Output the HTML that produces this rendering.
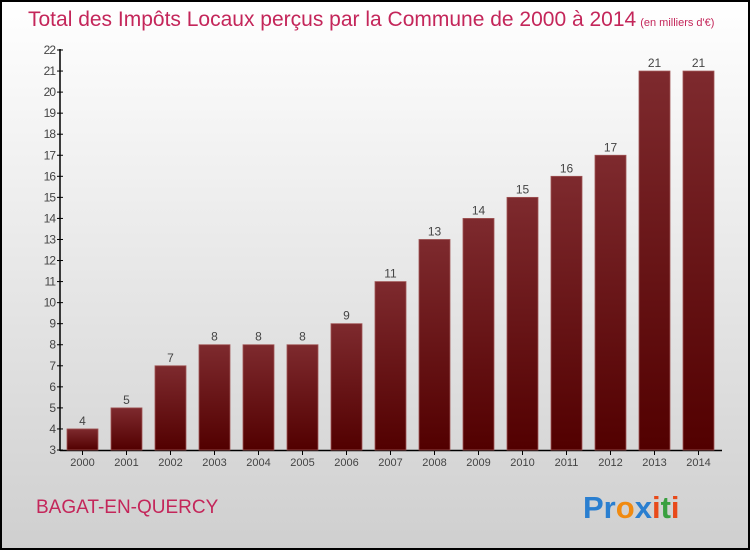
<!DOCTYPE html>
<html><head><meta charset="utf-8"><style>
body{margin:0;width:750px;height:550px;overflow:hidden;font-family:"Liberation Sans",sans-serif}
</style></head><body>
<svg width="750" height="550" xmlns="http://www.w3.org/2000/svg">
<defs>
<linearGradient id="bg" x1="0" y1="0" x2="0" y2="1"><stop offset="0" stop-color="#ffffff"/><stop offset="1" stop-color="#cfcfcf"/></linearGradient>
<linearGradient id="bar" x1="0" y1="0" x2="0" y2="1"><stop offset="0" stop-color="#7e2a2e"/><stop offset="1" stop-color="#520000"/></linearGradient>
</defs>
<rect x="1" y="1" width="748" height="548" fill="url(#bg)" stroke="#000" stroke-width="2"/>
<text x="28" y="26" font-size="21" fill="#c4265a">Total des Impôts Locaux perçus par la Commune de 2000 à 2014<tspan font-size="11" dx="4">(en milliers d'€)</tspan></text>
<g id="axes"></g>
<g id="bars"></g>
<text x="36" y="513" font-size="19" fill="#c4265a">BAGAT-EN-QUERCY</text>
<text x="583" y="518" font-size="31" font-weight="bold"><tspan fill="#2a7fd0">Pr</tspan><tspan fill="#f08a10">o</tspan><tspan fill="#2a7fd0">x</tspan><tspan fill="#e84a1a">i</tspan><tspan fill="#3aa040">t</tspan><tspan fill="#e84a1a">i</tspan></text>
</svg>
<script>
const years=["2000","2001","2002","2003","2004","2005","2006","2007","2008","2009","2010","2011","2012","2013","2014"];
const values=[4,5,7,8,8,8,9,11,13,14,15,16,17,21,21];
const yTicks=[3,4,5,6,7,8,9,10,11,12,13,14,15,16,17,18,19,20,21,22];
const NS="http://www.w3.org/2000/svg";
const y=v=>450-(v-3)*(400/19);
const x=i=>67+i*44;
const ax=document.getElementById('axes'),bg=document.getElementById('bars');
function mk(tag,attrs,parent,txt){const e=document.createElementNS(NS,tag);for(const k in attrs)e.setAttribute(k,attrs[k]);if(txt!==undefined)e.textContent=txt;parent.appendChild(e);return e;}
let l=mk('line',{x1:60,y1:49,x2:60,y2:451,stroke:'#000','stroke-width':1.5},ax);


l=mk('line',{x1:60,y1:450.5,x2:722,y2:450.5,stroke:'#000','stroke-width':1.5},ax);


yTicks.forEach(t=>{
 mk('line',{x1:57,y1:y(t),x2:63,y2:y(t),stroke:'#000'},ax);
 const tx=mk('text',{x:55,y:y(t)+4,'font-size':12,fill:'#444','text-anchor':'end','letter-spacing':'-1'},ax,t);
 
 
});
years.forEach((yr,i)=>{
 const r=mk('rect',{x:x(i),y:y(values[i]),width:31,height:450-y(values[i]),fill:'url(#bar)',stroke:'#a05555','stroke-width':0.8},bg);
 
 
 const v=mk('text',{x:x(i)+15.5,y:y(values[i])-4,'font-size':12,fill:'#444','text-anchor':'middle'},bg,values[i]);
 
 
 mk('line',{x1:x(i)+15.5,y1:450,x2:x(i)+15.5,y2:455,stroke:'#000'},ax);
 const t=mk('text',{x:x(i)+15.5,y:466,'font-size':11,fill:'#444','text-anchor':'middle'},ax,yr);
 
 
});
</script>
</body></html>
